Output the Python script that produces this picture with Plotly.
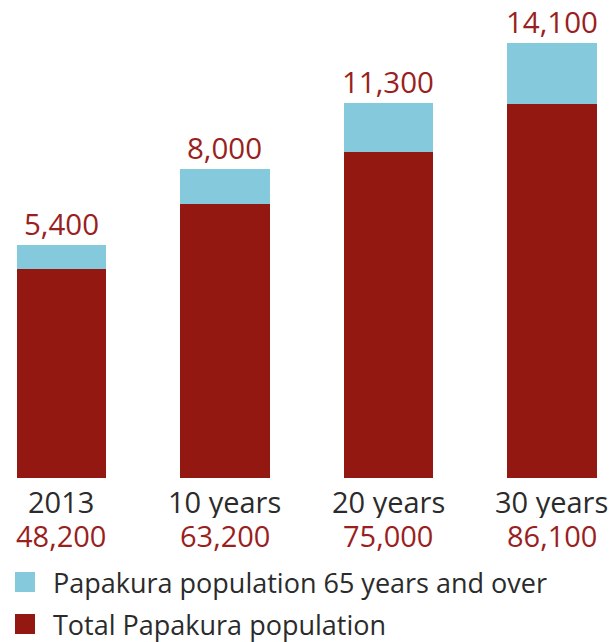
import plotly.graph_objects as go

categories = ["2013", "10 years", "20 years", "30 years"]
total_pop = [48200, 63200, 75000, 86100]
older_pop = [5400, 8000, 11300, 14100]
series_names = ["Papakura population 65 years and over", "Total Papakura population"]
series_colors = ["#85C9DC", "#941812"]

RED = series_colors[1]
BLUE = series_colors[0]
LABEL_RED = "#9A1F1F"
DARK = "#2B2B2B"
FONT = "Open Sans, Noto Sans, sans-serif"

fig = go.Figure()
fig.add_trace(go.Bar(x=categories, y=total_pop, name=series_names[1], marker_color=RED,
                     marker_line_width=0, width=0.545, showlegend=False))
fig.add_trace(go.Bar(x=categories, y=older_pop, name=series_names[0], marker_color=BLUE,
                     marker_line_width=0, width=0.545, showlegend=False))

annotations = []
for i, (c, t, o) in enumerate(zip(categories, total_pop, older_pop)):
    annotations.append(dict(x=i, y=t + o, xref="x", yref="y", text=f"{o:,}", showarrow=False,
                            yanchor="bottom", yshift=-1,
                            font=dict(family=FONT, size=29.5, color=LABEL_RED)))
    annotations.append(dict(x=i, y=-0.05, xref="x", yref="paper", text=c, showarrow=False,
                            yanchor="middle", valign="middle", height=33,
                            font=dict(family=FONT, size=29, color=DARK)))
    annotations.append(dict(x=i, y=-0.121, xref="x", yref="paper", text=f"{t:,}", showarrow=False,
                            yanchor="middle", valign="middle", height=33,
                            font=dict(family=FONT, size=29, color=LABEL_RED)))

# manual legend (swatch + label), plot area is 611 x 478 px
shapes = []
PW, PH = 611.0, 478.0
for k, (name, col) in enumerate(zip(series_names, series_colors)):
    cy = 582 + 42 * k
    shapes.append(dict(type="rect", xref="paper", yref="paper",
                       x0=15 / PW, x1=35 / PW, y0=(478 - (cy + 10)) / PH, y1=(478 - (cy - 10)) / PH,
                       fillcolor=col, line=dict(width=0)))
    annotations.append(dict(x=51 / PW, y=(478 - cy) / PH, xref="paper", yref="paper", text=name,
                            showarrow=False, xanchor="left", yanchor="middle",
                            font=dict(family=FONT, size=27, color=DARK)))

fig.update_layout(
    width=611, height=642,
    margin=dict(l=0, r=0, t=0, b=164, autoexpand=False),
    barmode="stack",
    plot_bgcolor="white", paper_bgcolor="white",
    font=dict(family=FONT, color=DARK),
    xaxis=dict(range=[-0.376, 3.361], showticklabels=False, showgrid=False, zeroline=False,
               showline=False, ticks="", type="category"),
    yaxis=dict(range=[0, 110080], showticklabels=False, showgrid=False, zeroline=False,
               showline=False, ticks=""),
    showlegend=False,
    annotations=annotations,
    shapes=shapes,
)

fig.write_html("out.html", config={"displayModeBar": False},
               post_script="document.body.style.margin='0';document.body.style.overflow='hidden';")
